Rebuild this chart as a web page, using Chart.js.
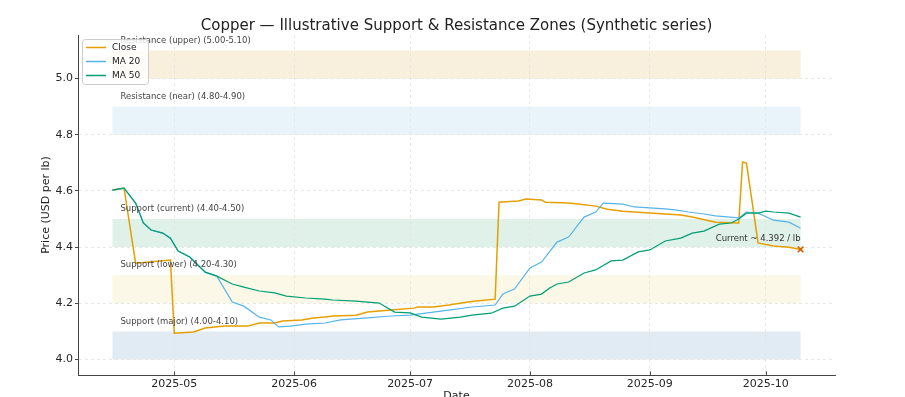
<!DOCTYPE html>
<html>
<head>
<meta charset="utf-8">
<script src="https://cdn.jsdelivr.net/npm/chart.js@4.4.1/dist/chart.umd.min.js"></script>
<style>
  html, body { margin: 0; padding: 0; background: #fff; overflow: hidden; }
  canvas { display: block; }
</style>
</head>
<body>
<canvas id="chart" width="905" height="397"></canvas>
<script>
// data (vertices of each line)
const closeDates = ['2025-04-15','2025-04-18','2025-04-21','2025-04-30','2025-05-01','2025-05-06','2025-05-09','2025-05-14','2025-05-20','2025-05-23','2025-05-27','2025-05-29','2025-06-03','2025-06-06','2025-06-09','2025-06-11','2025-06-17','2025-06-20','2025-06-26','2025-07-02','2025-07-03','2025-07-07','2025-07-11','2025-07-16','2025-07-18','2025-07-23','2025-07-24','2025-07-29','2025-07-31','2025-08-04','2025-08-05','2025-08-11','2025-08-14','2025-08-18','2025-08-21','2025-08-25','2025-08-28','2025-09-02','2025-09-05','2025-09-09','2025-09-12','2025-09-18','2025-09-24','2025-09-25','2025-09-26','2025-09-29','2025-10-03','2025-10-07','2025-10-10'];
const closeValues = [4.603,4.610,4.343,4.354,4.094,4.098,4.112,4.119,4.119,4.130,4.130,4.137,4.141,4.148,4.151,4.155,4.158,4.169,4.176,4.183,4.187,4.187,4.194,4.205,4.208,4.215,4.560,4.564,4.571,4.568,4.560,4.557,4.553,4.546,4.535,4.528,4.525,4.521,4.518,4.514,4.507,4.489,4.486,4.703,4.699,4.415,4.404,4.400,4.392];

const ma20Dates = ['2025-04-15','2025-04-18','2025-04-21','2025-04-23','2025-04-25','2025-04-28','2025-04-30','2025-05-02','2025-05-05','2025-05-09','2025-05-12','2025-05-16','2025-05-19','2025-05-23','2025-05-26','2025-05-28','2025-05-31','2025-06-04','2025-06-09','2025-06-13','2025-06-20','2025-06-26','2025-07-01','2025-07-07','2025-07-11','2025-07-17','2025-07-23','2025-07-25','2025-07-28','2025-08-01','2025-08-04','2025-08-08','2025-08-11','2025-08-15','2025-08-18','2025-08-20','2025-08-25','2025-08-28','2025-09-02','2025-09-05','2025-09-08','2025-09-11','2025-09-15','2025-09-18','2025-09-24','2025-09-26','2025-09-29','2025-10-03','2025-10-07','2025-10-10'];
const ma20Values = [4.603,4.610,4.557,4.486,4.461,4.450,4.432,4.386,4.365,4.311,4.297,4.205,4.190,4.151,4.141,4.116,4.119,4.126,4.130,4.141,4.148,4.155,4.158,4.169,4.176,4.187,4.194,4.233,4.251,4.326,4.347,4.418,4.436,4.507,4.525,4.557,4.553,4.543,4.539,4.536,4.532,4.525,4.518,4.511,4.504,4.525,4.521,4.496,4.489,4.467];

const ma50Dates = ['2025-04-15','2025-04-18','2025-04-21','2025-04-23','2025-04-25','2025-04-28','2025-04-30','2025-05-02','2025-05-05','2025-05-09','2025-05-12','2025-05-16','2025-05-19','2025-05-23','2025-05-27','2025-05-30','2025-06-04','2025-06-09','2025-06-11','2025-06-17','2025-06-23','2025-06-27','2025-07-01','2025-07-04','2025-07-09','2025-07-14','2025-07-17','2025-07-22','2025-07-25','2025-07-28','2025-08-01','2025-08-04','2025-08-06','2025-08-08','2025-08-11','2025-08-15','2025-08-18','2025-08-22','2025-08-25','2025-08-29','2025-09-01','2025-09-05','2025-09-09','2025-09-12','2025-09-15','2025-09-19','2025-09-22','2025-09-24','2025-09-26','2025-09-29','2025-10-01','2025-10-03','2025-10-07','2025-10-10'];
const ma50Values = [4.603,4.610,4.557,4.486,4.461,4.450,4.432,4.386,4.365,4.311,4.297,4.269,4.258,4.244,4.237,4.226,4.219,4.215,4.212,4.208,4.201,4.169,4.166,4.151,4.144,4.151,4.158,4.165,4.183,4.190,4.226,4.233,4.254,4.269,4.276,4.308,4.319,4.351,4.354,4.383,4.390,4.422,4.432,4.450,4.457,4.482,4.486,4.500,4.521,4.521,4.528,4.525,4.521,4.507];

// zones
const bandNames = ['Resistance (upper)','Resistance (near)','Support (current)','Support (lower)','Support (major)'];
const bandLow  = [5.00, 4.80, 4.40, 4.20, 4.00];
const bandHigh = [5.10, 4.90, 4.50, 4.30, 4.10];
const bandColors = ['#f8efdd','#e9f3fa','#dff1e9','#fcf8e7','#e0ebf3'];

// ticks
const monthTicks = ['2025-05','2025-06','2025-07','2025-08','2025-09','2025-10'];
const yTicks = [4.0, 4.2, 4.4, 4.6, 4.8, 5.0];

const seriesNames = ['Close','MA 20','MA 50'];
const seriesColors = ['#E69F00','#56B4E9','#009E73'];

function dayNum(s) {
    const p = s.split('-').map(Number);
    return Date.UTC(p[0], p[1] - 1, p[2] || 1) / 86400000;
}
function toPoints(dates, values) {
    return dates.map((d, i) => ({ x: dayNum(d), y: values[i] }));
}

const xStart = dayNum(closeDates[0]);
const xEnd = dayNum(closeDates[closeDates.length - 1]);
const xPad = (xEnd - xStart) * 0.05;
const lastClose = closeValues[closeValues.length - 1];

Chart.defaults.font.family = "'DejaVu Sans', sans-serif";
Chart.defaults.color = '#262626';

const overlay = {
    id: 'overlay',
    beforeDraw(chart) {
        const ctx = chart.ctx;
        const xs = chart.scales.x, ys = chart.scales.y;
        const x0 = xs.getPixelForValue(xStart), x1 = xs.getPixelForValue(xEnd);
        ctx.save();
        bandNames.forEach((name, i) => {
            const yt = ys.getPixelForValue(bandHigh[i]);
            const yb = ys.getPixelForValue(bandLow[i]);
            ctx.fillStyle = bandColors[i];
            ctx.fillRect(x0, yt, x1 - x0, yb - yt);
        });
        ctx.restore();
    },
    afterDatasetsDraw(chart) {
        const ctx = chart.ctx;
        const xs = chart.scales.x, ys = chart.scales.y;
        const area = chart.chartArea;
        const x0 = xs.getPixelForValue(xStart);
        ctx.save();

        // zone labels
        ctx.font = "8.5px 'DejaVu Sans'";
        ctx.fillStyle = '#444';
        ctx.textAlign = 'left';
        ctx.textBaseline = 'middle';
        bandNames.forEach((name, i) => {
            const txt = name + ' (' + bandLow[i].toFixed(2) + '-' + bandHigh[i].toFixed(2) + ')';
            ctx.fillText(txt, x0 + 8, ys.getPixelForValue(bandHigh[i]) - 10);
        });

        // current price note
        const px = xs.getPixelForValue(xEnd), py = ys.getPixelForValue(lastClose);
        ctx.textAlign = 'right';
        ctx.fillStyle = '#333';
        ctx.fillText('Current ~ ' + lastClose.toFixed(3) + ' / lb', px, py - 11);

        // x tick marks (inward)
        ctx.strokeStyle = '#444';
        ctx.lineWidth = 1;
        monthTicks.forEach(m => {
            const tx = Math.round(xs.getPixelForValue(dayNum(m + '-01'))) + 0.5;
            ctx.beginPath();
            ctx.moveTo(tx, area.bottom);
            ctx.lineTo(tx, area.bottom - 3.5);
            ctx.stroke();
        });

        // legend
        const lx = 82, ly = 39, lw = 66, lh = 45;
        ctx.fillStyle = 'rgba(255,255,255,0.8)';
        ctx.strokeStyle = '#cccccc';
        ctx.lineWidth = 1;
        ctx.beginPath();
        ctx.roundRect(lx + 0.5, ly + 0.5, lw, lh, 3);
        ctx.fill();
        ctx.stroke();
        ctx.font = "9px 'DejaVu Sans'";
        ctx.textAlign = 'left';
        ctx.textBaseline = 'middle';
        seriesNames.forEach((name, i) => {
            const ey = ly + 8.5 + i * 14;
            ctx.strokeStyle = seriesColors[i];
            ctx.lineWidth = 1.5;
            ctx.beginPath();
            ctx.moveTo(lx + 4, ey);
            ctx.lineTo(lx + 24, ey);
            ctx.stroke();
            ctx.fillStyle = '#222';
            ctx.fillText(name, lx + 30, ey);
        });

        // title and x label
        ctx.fillStyle = '#222';
        ctx.textAlign = 'center';
        ctx.textBaseline = 'alphabetic';
        ctx.font = "15px 'DejaVu Sans'";
        ctx.fillText('Copper \u2014 Illustrative Support & Resistance Zones (Synthetic series)', (area.left + area.right) / 2, 29.5);
        ctx.font = "11px 'DejaVu Sans'";
        ctx.textBaseline = 'top';
        ctx.fillText('Date', (area.left + area.right) / 2, 391);
        ctx.restore();
    }
};

const gridColor = '#e2e2e2';

new Chart(document.getElementById('chart'), {
    type: 'line',
    data: {
        datasets: [
            { label: 'Close', order: 3, data: toPoints(closeDates, closeValues), borderColor: seriesColors[0], borderWidth: 1.5, pointRadius: 0, tension: 0 },
            { label: 'MA 20', order: 2, data: toPoints(ma20Dates, ma20Values), borderColor: seriesColors[1], borderWidth: 1.2, pointRadius: 0, tension: 0 },
            { label: 'MA 50', order: 1, data: toPoints(ma50Dates, ma50Values), borderColor: seriesColors[2], borderWidth: 1.2, pointRadius: 0, tension: 0 },
            { label: 'Current', order: 0, data: [{ x: xEnd, y: lastClose }], showLine: false, pointStyle: 'crossRot', pointRadius: 4, pointBorderWidth: 1.6, borderColor: '#D55E00', backgroundColor: '#D55E00' }
        ]
    },
    options: {
        responsive: false,
        animation: false,
        devicePixelRatio: 1,
        layout: { padding: { left: 0, right: 70, top: 35, bottom: 0 } },
        plugins: { legend: { display: false }, tooltip: { enabled: false }, title: { display: false } },
        scales: {
            x: {
                type: 'linear',
                min: xStart - xPad,
                max: xEnd + xPad,
                afterBuildTicks: s => { s.ticks = monthTicks.map(m => ({ value: dayNum(m + '-01') })); },
                afterFit: s => { s.height = 22; },
                ticks: { autoSkip: false, maxRotation: 0, padding: 3, color: '#262626', font: { size: 11 }, callback: (v, i) => monthTicks[i] },
                grid: { color: gridColor, lineWidth: 0.8, drawTicks: false, tickLength: 0 },
                border: { display: true, color: '#444', width: 1, dash: [3, 3] }
            },
            y: {
                type: 'linear',
                min: 3.945,
                max: 5.155,
                afterBuildTicks: s => { s.ticks = yTicks.map(v => ({ value: v })); },
                afterFit: s => { s.width = 78; },
                ticks: { padding: 2, color: '#262626', font: { size: 11 }, callback: v => v.toFixed(1) },
                grid: { color: gridColor, lineWidth: 0.8, tickLength: 3, tickColor: '#444', tickWidth: 1, tickBorderDash: [] },
                border: { display: true, color: '#444', width: 1, dash: [3, 3] },
                title: { display: true, text: 'Price (USD per lb)', color: '#222', font: { size: 11 }, padding: { top: 40, bottom: 0 } }
            }
        }
    },
    plugins: [overlay]
});
</script>
</body>
</html>
